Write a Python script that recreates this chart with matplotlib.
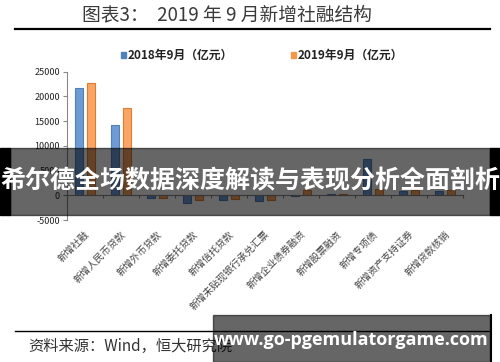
import numpy as np
import matplotlib.pyplot as plt
from matplotlib.patches import Rectangle
from matplotlib.lines import Line2D

plt.rcParams['font.family'] = ['Noto Sans CJK SC', 'DejaVu Sans']

# 数据 (亿元)
categories = ['新增社融', '新增人民币贷款', '新增外币贷款', '新增委托贷款', '新增信托贷款',
              '新增未贴现银行承兑汇票', '新增企业债券融资', '新增股票融资', '新增专项债',
              '新增资产支持证券', '新增贷款核销']
sep_2018 = [21700, 14300, -500, -1650, -1000, -1250, -150, 280, 7400, 950, 900]
sep_2019 = [22700, 17650, -450, -1050, -800, -1000, 1100, 170, 1300, 1100, 1000]
series_names = ['2018年9月（亿元）', '2019年9月（亿元）']
yticks = [-5000, 0, 5000, 10000, 15000, 20000, 25000]

blue = '#4f81bd'
orange = '#f79646'

fig = plt.figure(figsize=(5, 3.62), dpi=100)
W, H = 500, 362

# 标题和横线
fig.text(82 / W, 1 - 15 / H, '图表3：  2019 年 9 月新增社融结构', fontsize=13.5,
         color='#3a3a3a', va='center', ha='left')
fig.add_artist(Line2D([15 / W, 490 / W], [1 - 29 / H] * 2, color='black', lw=1.6))

# 图例
for i, (name, c) in enumerate(zip(series_names, [blue, orange])):
    x0 = [121, 291][i]
    fig.add_artist(Rectangle((x0 / W, 1 - 58 / H), 4.5 / W, 6 / H, color=c,
                             transform=fig.transFigure))
    fig.text((x0 + 7) / W, 1 - 55 / H, name, fontsize=8.5, fontweight='bold',
             color='#222222', va='center', ha='left')

ax = fig.add_axes([67 / W, 1 - 220 / H, 396 / W, 148.3 / H])
x = np.arange(len(categories))
w = 0.22
ax.bar(x - 0.16, sep_2018, width=w, color='#6f9bd4', edgecolor=blue, linewidth=0.8)
ax.bar(x + 0.16, sep_2019, width=w, color='#fba565', edgecolor='#e07b30', linewidth=0.8)

ax.set_xlim(-0.5, len(categories) - 0.5)
ax.set_ylim(-5000, 25000)
ax.set_yticks(yticks)
ax.set_yticklabels([str(v) for v in yticks], fontsize=6.5, color='#222222')
ax.tick_params(axis='y', direction='out', length=3, color='#888888', pad=2)
for s in ['top', 'right']:
    ax.spines[s].set_visible(False)
ax.spines['left'].set_color('#888888')
ax.spines['bottom'].set_position(('data', 0))
ax.spines['bottom'].set_color('#888888')
ax.set_xticks(np.arange(len(categories) + 1) - 0.5)
ax.set_xticklabels([])
ax.tick_params(axis='x', direction='out', length=2.5, color='#888888')

for i, lab in enumerate(categories):
    ax.text(i - 0.02, -6800, lab, rotation=45, ha='right', va='top', fontsize=7,
            color='#444444', rotation_mode='anchor')

# 底部线和来源
fig.add_artist(Line2D([15 / W, 490 / W], [1 - 331 / H] * 2, color='black', lw=1.0))
fig.text(28 / W, 1 - 346 / H, '资料来源：Wind，恒大研究院', fontsize=11,
         color='#333333', style='italic', va='center', ha='left')

# 覆盖的横幅
fig.add_artist(Rectangle((10 / W, 1 - 215 / H), 480 / W, 67 / H, color='black', alpha=0.6,
                         transform=fig.transFigure, zorder=10))
fig.add_artist(Rectangle((0, 1 - 215 / H), 10 / W, 67 / H, color='black',
                         transform=fig.transFigure, zorder=10))
fig.add_artist(Rectangle((490 / W, 1 - 215 / H), 10 / W, 67 / H, color='black',
                         transform=fig.transFigure, zorder=10))
fig.text(0.5, 1 - 181 / H, '希尔德全场数据深度解读与表现分析全面剖析', fontsize=18,
         fontweight='bold', color='white', ha='center', va='center', zorder=11)

fig.add_artist(Rectangle((213 / W, 0), 277 / W, 47 / H, color='black', alpha=0.6,
                         transform=fig.transFigure, zorder=10))
fig.add_artist(Line2D([491 / W] * 2, [0, 47 / H], color='black', lw=1.5, zorder=11))
fig.text(351 / W, 1 - 340 / H, 'www.go-pgemulatorgame.com', fontsize=13,
         fontweight='bold', color='white', ha='center', va='center', zorder=11,
         family='Open Sans')

fig.savefig('out.png', dpi=100)
